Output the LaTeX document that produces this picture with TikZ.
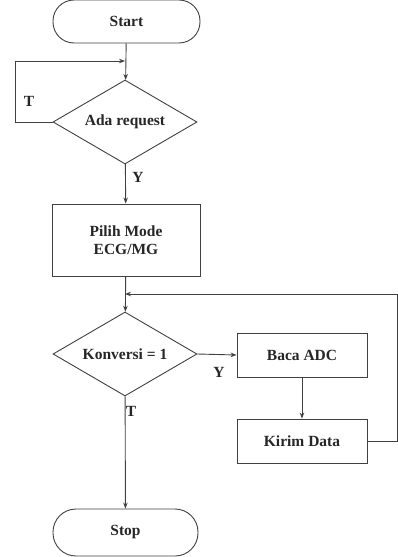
\documentclass[tikz,border=0pt]{standalone}
\usepackage{fontspec}
\setmainfont{Liberation Serif}
\usetikzlibrary{shapes.geometric,arrows.meta}
\begin{document}
\begin{tikzpicture}[x=1pt,y=-1pt,
  line width=0.9pt,
  every node/.style={font=\fontsize{15.5}{18.5}\selectfont\bfseries, text=black!85},
  term/.style={draw=black!75, rounded corners=21pt, minimum width=147pt, minimum height=43pt, inner sep=0pt},
  proc/.style={draw=black!75, minimum width=148pt, minimum height=72pt, align=center, inner sep=0pt},
  sproc/.style={draw=black!75, minimum width=130pt, minimum height=44pt, inner sep=0pt},
  decide/.style={draw=black!75, diamond, aspect=1.72, minimum width=144pt, minimum height=84pt, inner sep=0pt},
  flow/.style={draw=black!75, -{Stealth[length=6pt,width=4.5pt]}},
  line/.style={draw=black!75}]
\useasboundingbox (0,0) rectangle (398,557);

\node[term] (start) at (126.5,21.5) {Start};
\node[decide] (req) at (125,122) {Ada request};
\node[proc] (mode) at (126,240) {Pilih Mode\\ECG/MG};
\node[decide] (konv) at (125,354) {Konversi = 1};
\node[sproc] (baca) at (302,355) {Baca ADC};
\node[sproc] (kirim) at (302,441) {Kirim Data};
\node[term, minimum width=145pt, minimum height=47pt, rounded corners=23pt] (stop) at (125.5,532.5) {Stop};

\coordinate (loopL1) at (15,122);
\coordinate (loopL2) at (15,61);
\coordinate (loopIn) at (125,61);
\coordinate (backR1) at (397,441);
\coordinate (backR2) at (397,294);
\coordinate (backIn) at (125,294);

% main line
\draw[flow] (start) -- (req);
\draw[line] (req.west) -- (loopL1) -- (loopL2);
\draw[flow] (loopL2) -- (loopIn);
\draw[flow] (req) -- (mode);
\draw[flow] (mode) -- (konv);
\draw[line] (kirim.east) -- (backR1) -- (backR2);
\draw[flow] (backR2) -- (backIn);
\draw[flow] (konv.east) -- (baca.west);
\draw[flow] (baca) -- (kirim);
\draw[flow] (konv) -- (stop);

% branch labels
\node (lt) at (29,101) {T};
\node (ly) at (138,177) {Y};
\node (ly2) at (219,372) {Y};
\node (lt2) at (131,411) {T};
\end{tikzpicture}
\end{document}
